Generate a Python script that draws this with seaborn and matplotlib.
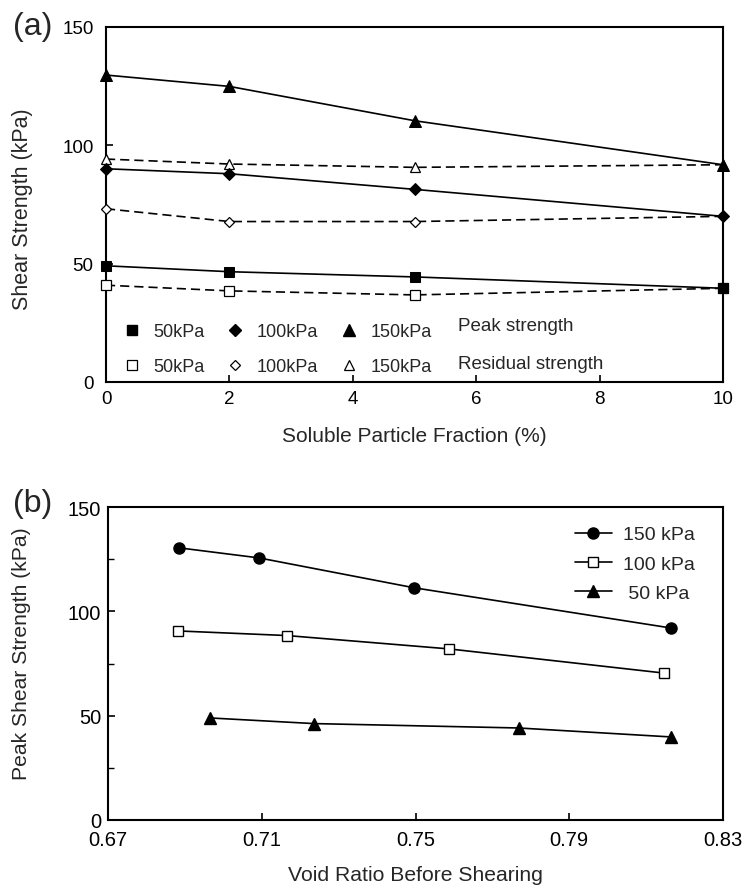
import matplotlib
matplotlib.use("Agg")
import matplotlib.pyplot as plt
from matplotlib.lines import Line2D
import seaborn as sns
import numpy as np

# ---------------- data ----------------
# (a) shear strength vs soluble particle fraction
fraction = [0, 2, 5, 10]
peak_50 = [49.1, 46.6, 44.4, 39.6]
peak_100 = [90.1, 88.0, 81.4, 70.0]
peak_150 = [129.7, 124.9, 110.4, 91.8]
res_50 = [40.9, 38.5, 36.8, 39.6]
res_100 = [73.2, 67.8, 67.8, 70.0]
res_150 = [94.2, 92.1, 90.7, 91.8]
legend_labels_a = ["50kPa", "100kPa", "150kPa"]
group_labels_a = ["Peak strength", "Residual strength"]

# (b) peak shear strength vs void ratio
void_150 = [0.6886, 0.7093, 0.7496, 0.8165]
peak_b_150 = [130.4, 125.6, 111.3, 92.0]
void_100 = [0.6883, 0.7165, 0.7587, 0.8147]
peak_b_100 = [90.6, 88.4, 82.0, 70.4]
void_50 = [0.6966, 0.7236, 0.7768, 0.8165]
peak_b_50 = [48.9, 46.2, 44.1, 39.8]
legend_labels_b = ["150 kPa", "100 kPa", " 50 kPa"]

yticks = [0, 50, 100, 150]
xticks_a = [0, 2, 4, 6, 8, 10]
xticks_b = [0.67, 0.71, 0.75, 0.79, 0.83]
xticklabels_b = ["0.67", "0.71", "0.75", "0.79", "0.83"]

# ---------------- style ----------------
sns.set_theme(style="ticks")
plt.rcParams["font.family"] = ["Liberation Sans", "DejaVu Sans"]
plt.rcParams["axes.linewidth"] = 1.5
plt.rcParams["xtick.direction"] = "in"
plt.rcParams["ytick.direction"] = "in"

W, H = 746, 887
fig = plt.figure(figsize=(W / 100, H / 100), dpi=100)

def px_axes(l, t, r, b):
    return fig.add_axes([l / W, 1 - b / H, (r - l) / W, (b - t) / H])

ax1 = px_axes(106, 28, 723, 383)
ax2 = px_axes(108, 508, 723, 821)

# ---------------- panel (a) ----------------
dash = (0, (5.5, 3))
for y, m, ms in [(res_50, "s", 6.5), (res_100, "D", 5.5), (res_150, "^", 7.5)]:
    sns.lineplot(x=fraction, y=y, ax=ax1, color="black", linewidth=1.2,
                 linestyle=dash, marker=m, markersize=ms,
                 markerfacecolor="white", markeredgecolor="black",
                 markeredgewidth=0.9, clip_on=False, zorder=3)
for y, m, ms in [(peak_50, "s", 7.5), (peak_100, "D", 6.5), (peak_150, "^", 8.5)]:
    sns.lineplot(x=fraction, y=y, ax=ax1, color="black", linewidth=1.2,
                 marker=m, markersize=ms, markerfacecolor="black",
                 markeredgecolor="black", clip_on=False, zorder=4)

ax1.set_xlim(0, 10)
ax1.set_ylim(0, 150)
ax1.set_xticks(xticks_a)
ax1.set_yticks(yticks)
ax1.tick_params(axis="both", labelsize=13.5, length=5, width=1.2, colors="black")
ax1.tick_params(axis="x", pad=6)
ax1.tick_params(axis="y", pad=9)
ax1.set_xlabel("Soluble Particle Fraction (%)", fontsize=15)
ax1.set_ylabel("Shear Strength (kPa)", fontsize=15.5)
ax1.xaxis.set_label_coords(0.5, -0.125)
ax1.yaxis.set_label_coords(-0.118, 0.49)
for s in ax1.spines.values():
    s.set_visible(True)
    s.set_color("black")

handles_a = []
labels_a = []
for m, ms in [("s", 7.5), ("D", 6.5), ("^", 8)]:
    handles_a.append(Line2D([], [], linestyle="none", marker=m, markersize=ms,
                            markerfacecolor="black", markeredgecolor="black"))
    handles_a.append(Line2D([], [], linestyle="none", marker=m, markersize=ms - 1,
                            markerfacecolor="white", markeredgecolor="black",
                            markeredgewidth=0.9))
for lab in legend_labels_a:
    labels_a.extend([lab, lab])
leg1 = ax1.legend(handles_a, labels_a, ncol=3, loc="lower left",
                  bbox_to_anchor=(0.027, 0.02), frameon=False, fontsize=13,
                  handlelength=1.0, handletextpad=0.7, columnspacing=1.2,
                  labelspacing=1.0, borderpad=0, borderaxespad=0)
ax1.text(0.570, 0.158, group_labels_a[0], transform=ax1.transAxes,
         fontsize=13.5, va="center", ha="left")
ax1.text(0.570, 0.051, group_labels_a[1], transform=ax1.transAxes,
         fontsize=13.5, va="center", ha="left")

# ---------------- panel (b) ----------------
series_b = [
    (void_150, peak_b_150, "o", 8, "black"),
    (void_100, peak_b_100, "s", 7, "white"),
    (void_50, peak_b_50, "^", 8, "black"),
]
for (x, y, m, ms, fc), lab in zip(series_b, legend_labels_b):
    sns.lineplot(x=x, y=y, ax=ax2, color="black", linewidth=1.2, marker=m,
                 markersize=ms, markerfacecolor=fc, markeredgecolor="black",
                 markeredgewidth=1.0, label=lab, sort=False, zorder=3)

ax2.set_xlim(0.67, 0.83)
ax2.set_ylim(0, 150)
ax2.set_xticks(xticks_b)
ax2.set_xticklabels(xticklabels_b)
ax2.set_yticks(yticks)
ax2.set_yticks([25, 75, 125], minor=True)
ax2.tick_params(axis="both", which="major", labelsize=14.5, length=5, width=1.2,
                colors="black")
ax2.tick_params(axis="y", which="minor", length=4, width=1.0, colors="black")
ax2.tick_params(axis="x", pad=7)
ax2.tick_params(axis="y", pad=5)
ax2.set_xlabel("Void Ratio Before Shearing", fontsize=15.2)
ax2.set_ylabel("Peak Shear Strength (kPa)", fontsize=15.2)
ax2.xaxis.set_label_coords(0.5, -0.145)
ax2.yaxis.set_label_coords(-0.125, 0.535)
for s in ax2.spines.values():
    s.set_visible(True)
    s.set_color("black")
ax2.legend(loc="upper right", bbox_to_anchor=(0.955, 0.94), frameon=False,
           fontsize=14, handlelength=1.9, handletextpad=0.6, labelspacing=0.6,
           borderpad=0, borderaxespad=0)

fig.text(13 / W, 1 - 27 / H, "(a)", fontsize=23, va="center", ha="left")
fig.text(13 / W, 1 - 504 / H, "(b)", fontsize=23, va="center", ha="left")

fig.savefig("out.png", dpi=100)
